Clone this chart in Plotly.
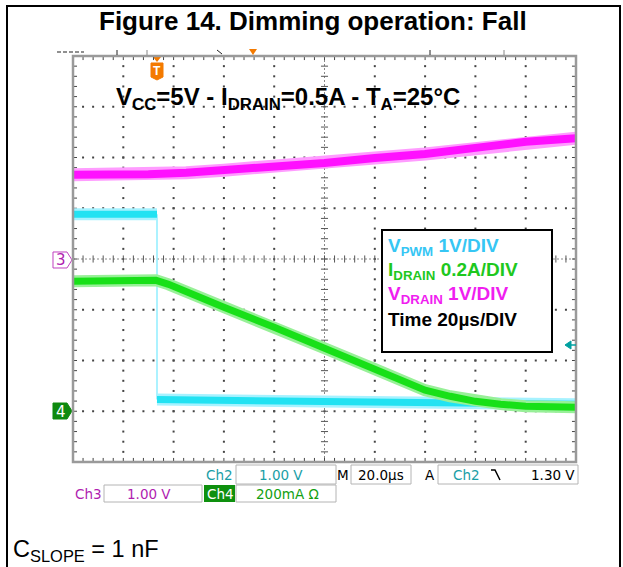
import plotly.graph_objects as go

W, H = 623, 567
GL, GR, GT, GB = 73, 576, 56, 462  # graticule box in pixels

# ---------------- data ----------------
TIME_PER_DIV = 20.0  # us/div
# Ch2: V_PWM (V), 1 V/div, ground at -3 div
pwm_t = [0, 20, 33.4, 33.4, 60, 100, 140, 180, 200]
pwm_v = [3.88, 3.88, 3.88, 0.23, 0.21, 0.18, 0.16, 0.15, 0.14]
PWM_SCALE, PWM_GND = 1.0, -3.0
# Ch4: I_DRAIN (A), 0.2 A/div, ground at -3 div
id_t = [0, 20, 33, 38, 50, 60, 80, 100, 120, 130, 140, 150, 160, 170, 180, 200]
id_a = [0.512, 0.515, 0.516, 0.500, 0.449, 0.410, 0.331, 0.248, 0.166, 0.122,
        0.083, 0.059, 0.039, 0.028, 0.020, 0.016]
ID_SCALE, ID_GND = 0.2, -3.0
# Ch3: V_DRAIN (V), 1 V/div, ground at 0 div
vd_t = [0, 15, 30, 45, 60, 80, 100, 120, 140, 160, 180, 200]
vd_v = [1.66, 1.66, 1.67, 1.70, 1.75, 1.81, 1.89, 1.99, 2.07, 2.19, 2.31, 2.38]
VD_SCALE, VD_GND = 1.0, 0.0

legend_lines = [("V", "PWM", " 1V/DIV", "#36c6f4"),
                ("I", "DRAIN", " 0.2A/DIV", "#1ec81e"),
                ("V", "DRAIN", " 1V/DIV", "#f01ef0"),
                ("Time 20µs/DIV", "", "", "#000000")]

# ---------------- helpers ----------------
def px(x):
    return x / W

def py(y):
    return 1 - y / H

def path(points, close=True):
    s = "M " + " L ".join(f"{px(x):.5f},{py(y):.5f}" for x, y in points)
    return s + (" Z" if close else "")

def to_div(ts, vs, scale, gnd):
    return [t / TIME_PER_DIV for t in ts], [v / scale + gnd for v in vs]

fig = go.Figure()

# ---------------- graticule ----------------
gx, gy = [], []
for k in range(1, 10):
    if k == 5:
        continue
    for j in range(0, 41):
        gx.append(k); gy.append(-4 + j * 0.2)
for k in range(-3, 4):
    if k == 0:
        continue
    for j in range(0, 51):
        gx.append(j * 0.2); gy.append(k)
fig.add_trace(go.Scatter(x=gx, y=gy, mode="markers", hoverinfo="skip",
                         marker=dict(symbol="square", size=2, color="#444", line=dict(width=0))))

# centre lines + ticks and border ticks
tx, ty = [], []
cx, cy = [], []
for j in range(0, 51):
    x = j * 0.2
    cx += [x, x, None]; cy += [-0.07, 0.07, None]
    tx += [x, x, None]; ty += [-4, -3.92, None]
    tx += [x, x, None]; ty += [4, 3.92, None]
for j in range(0, 41):
    y = -4 + j * 0.2
    cx += [4.93, 5.07, None]; cy += [y, y, None]
    tx += [0, 0.08, None]; ty += [y, y, None]
    tx += [10, 9.92, None]; ty += [y, y, None]
fig.add_trace(go.Scatter(x=[0, 10, None, 5, 5], y=[0, 0, None, -4, 4], mode="lines",
                         hoverinfo="skip", line=dict(color="#888", width=1, dash="2px,2px")))
fig.add_trace(go.Scatter(x=cx, y=cy, mode="lines", hoverinfo="skip",
                         line=dict(color="#555", width=1)))
fig.add_trace(go.Scatter(x=tx, y=ty, mode="lines", hoverinfo="skip",
                         line=dict(color="#444", width=1)))

# ---------------- waveforms ----------------
def band(xs, ys, core, halo, wc=7, wh=12):
    fig.add_trace(go.Scatter(x=xs, y=ys, mode="lines", hoverinfo="skip",
                             line=dict(color=halo, width=wh)))
    fig.add_trace(go.Scatter(x=xs, y=ys, mode="lines", hoverinfo="skip",
                             line=dict(color=core, width=wc)))

# Ch2 (cyan) split at the edge
px2, py2 = to_div(pwm_t, pwm_v, PWM_SCALE, PWM_GND)
edge = [i for i in range(1, len(pwm_t)) if pwm_t[i] == pwm_t[i - 1]][0]
fig.add_trace(go.Scatter(x=px2[edge - 1:edge + 1], y=py2[edge - 1:edge + 1], mode="lines",
                         hoverinfo="skip", line=dict(color="#90eeff", width=1.5)))
band(px2[:edge], py2[:edge], "#22e2f2", "#a6f2ff")
band(px2[edge:], py2[edge:], "#22e2f2", "#a6f2ff")

# Ch4 (green)
x4, y4 = to_div(id_t, id_a, ID_SCALE, ID_GND)
band(x4, y4, "#18e018", "#98f098")

# Ch3 (magenta)
x3, y3 = to_div(vd_t, vd_v, VD_SCALE, VD_GND)
band(x3, y3, "#ff10ff", "#ff9cff", wc=8, wh=13)

shapes = []
ann = []

# graticule border
shapes.append(dict(type="rect", xref="paper", yref="paper", x0=px(GL), x1=px(GR),
                   y0=py(GB), y1=py(GT), line=dict(color="#9a9a9a", width=2.5)))

# outer frame
shapes.append(dict(type="line", xref="paper", yref="paper", x0=px(7), x1=px(7), y0=0, y1=py(6),
                   line=dict(color="black", width=2)))
shapes.append(dict(type="line", xref="paper", yref="paper", x0=px(620), x1=px(620), y0=0, y1=py(6),
                   line=dict(color="black", width=2)))
shapes.append(dict(type="line", xref="paper", yref="paper", x0=px(6), x1=px(621), y0=py(6), y1=py(6),
                   line=dict(color="black", width=2)))

# top record-view marks
shapes.append(dict(type="line", xref="paper", yref="paper", x0=px(57), x1=px(84), y0=py(52), y1=py(52),
                   line=dict(color="#222", width=1.2, dash="4px,2px")))
for xx, col in [(117, "#222"), (147, "#888"), (430, "#222"), (504, "#888")]:
    shapes.append(dict(type="line", xref="paper", yref="paper", x0=px(xx), x1=px(xx), y0=py(50),
                       y1=py(55), line=dict(color=col, width=1)))
shapes.append(dict(type="line", xref="paper", yref="paper", x0=px(217), x1=px(222), y0=py(50),
                   y1=py(54), line=dict(color="#222", width=1)))
shapes.append(dict(type="path", xref="paper", yref="paper",
                   path=path([(249, 49), (257, 49), (253, 55)]),
                   fillcolor="#f47a00", line=dict(width=0)))

# trigger position marker T
shapes.append(dict(type="path", xref="paper", yref="paper", layer="below",
                   path=path([(153, 57), (161, 57), (157, 62)]), fillcolor="#f47a00", line=dict(width=0)))
shapes.append(dict(type="path", xref="paper", yref="paper", layer="below",
                   path=path([(151, 63), (163, 63), (163, 77), (157, 80), (151, 77)]),
                   fillcolor="#f47a00", line=dict(color="#f47a00", width=1)))
ann.append(dict(x=px(157), y=py(71), xref="paper", yref="paper", xanchor="center", yanchor="middle",
                text="<b>T</b>", showarrow=False,
                font=dict(family="Liberation Sans", size=12, color="white")))

# channel ground markers
shapes.append(dict(type="path", xref="paper", yref="paper", layer="below",
                   path=path([(53, 252), (67, 252), (72, 260), (67, 268), (53, 268)]),
                   fillcolor="white", line=dict(color="#c040c0", width=1)))
ann.append(dict(x=px(60.5), y=py(260.5), xref="paper", yref="paper", xanchor="center",
                yanchor="middle", text="3", showarrow=False,
                font=dict(family="DejaVu Sans", size=15, color="#b020b0")))
shapes.append(dict(type="path", xref="paper", yref="paper", layer="below",
                   path=path([(53, 403), (67, 403), (72, 411), (67, 419), (53, 419)]),
                   fillcolor="#0f8a0f", line=dict(color="#0f8a0f", width=1)))
ann.append(dict(x=px(60.5), y=py(411.5), xref="paper", yref="paper", xanchor="center",
                yanchor="middle", text="4", showarrow=False,
                font=dict(family="DejaVu Sans", size=15, color="white")))

# trigger level marker (right)
shapes.append(dict(type="path", xref="paper", yref="paper",
                   path=path([(565, 345), (571, 341), (571, 349)]), fillcolor="#00a0a0",
                   line=dict(color="#00a0a0", width=1)))
shapes.append(dict(type="line", xref="paper", yref="paper", x0=px(570), x1=px(576), y0=py(345),
                   y1=py(345), line=dict(color="#00a0a0", width=1.5)))

# header
ann.append(dict(x=px(114), y=py(98), xref="paper", yref="paper", xanchor="left", yanchor="middle",
                text="<b>V<sub>CC</sub>=5V - I<sub>DRAIN</sub>=0.5A - T<sub>A</sub>=25°C</b>",
                showarrow=False, font=dict(family="Liberation Sans", size=24, color="black")))

# legend box
shapes.append(dict(type="rect", xref="paper", yref="paper", x0=px(382), x1=px(552), y0=py(352),
                   y1=py(230), fillcolor="white", line=dict(color="black", width=2), layer="above"))
for i, (a, s, b, col) in enumerate(legend_lines):
    txt = f"<b>{a}<sub>{s}</sub>{b}</b>" if s else f"<b>{a}</b>"
    ann.append(dict(x=px(386), y=py(247 + i * 24), xref="paper", yref="paper", xanchor="left",
                    yanchor="middle", text=txt, showarrow=False,
                    font=dict(family="Liberation Sans", size=19, color=col)))

# status bar
TEAL, CH3C, CH4C = "#1a9ea6", "#b01eb0", "#12a012"
for (x0, x1, y0, y1) in [(236, 336, 465, 484), (351, 411, 465, 484), (438, 578, 465, 484),
                         (104, 202, 485, 502), (236, 336, 485, 502)]:
    shapes.append(dict(type="rect", xref="paper", yref="paper", x0=px(x0), x1=px(x1), y0=py(y1),
                       y1=py(y0), line=dict(color="#b4b4b4", width=1)))
shapes.append(dict(type="rect", xref="paper", yref="paper", x0=px(204), x1=px(235), y0=py(502),
                   y1=py(485), fillcolor="#0e900e", line=dict(width=0), layer="below"))
# falling-edge symbol
shapes.append(dict(type="path", xref="paper", yref="paper",
                   path=path([(491, 470), (495, 470), (500, 480)], close=False),
                   line=dict(color="black", width=1.5)))

def stat(x, y, text, col, anchor="center"):
    ann.append(dict(x=px(x), y=py(y), xref="paper", yref="paper", xanchor=anchor, yanchor="middle",
                    text=text, showarrow=False,
                    font=dict(family="DejaVu Sans", size=13.5, color=col)))

stat(219, 474.5, "Ch2", TEAL)
stat(281, 474.5, "1.00 V", TEAL)
stat(343, 474.5, "M", "black")
stat(381, 474.5, "20.0µs", "black")
stat(430, 474.5, "A", "black")
stat(466, 474.5, "Ch2", TEAL)
stat(577, 474.5, "1.30 V", "black", anchor="right")
stat(88, 493.5, "Ch3", CH3C)
stat(149, 493.5, "1.00 V", CH3C)
stat(220, 493.5, "Ch4", "white")
stat(287, 493.5, "200mA Ω", CH4C)

# title
ann.append(dict(x=px(313), y=py(21), xref="paper", yref="paper", xanchor="center", yanchor="middle",
                text="<b>Figure 14. Dimming operation: Fall</b>", showarrow=False,
                font=dict(family="Liberation Sans", size=26, color="black")))
# footnote
ann.append(dict(x=px(11), y=py(550), xref="paper", yref="paper", xanchor="left", yanchor="middle",
                text="C<sub>SLOPE</sub> = 1 nF", showarrow=False,
                font=dict(family="Liberation Sans", size=23.5, color="black")))

fig.update_layout(
    width=W, height=H, margin=dict(l=0, r=0, t=0, b=0),
    paper_bgcolor="white", plot_bgcolor="white", showlegend=False,
    xaxis=dict(domain=[px(GL), px(GR)], range=[0, 10], visible=False, fixedrange=True),
    yaxis=dict(domain=[py(GB), py(GT)], range=[-4, 4], visible=False, fixedrange=True),
    shapes=shapes, annotations=ann,
)

fig.write_html("out.html", config={"displayModeBar": False, "staticPlot": True},
               post_script="document.body.style.margin='0';document.body.style.overflow='hidden';")
